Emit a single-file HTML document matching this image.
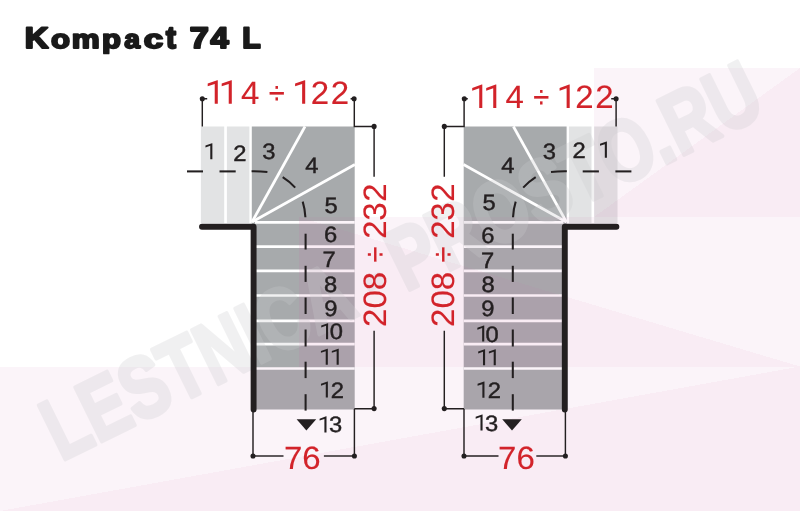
<!DOCTYPE html>
<html><head><meta charset="utf-8"><title>Kompact 74 L</title>
<style>
html,body{margin:0;padding:0;background:#fff;}
body{width:800px;height:511px;overflow:hidden;}
svg{display:block;font-family:"Liberation Sans",sans-serif;text-rendering:geometricPrecision;filter:blur(0.4px);}
</style></head><body>
<svg width="800" height="511" viewBox="0 0 800 511">
<rect width="800" height="511" fill="#fff"/>
<rect x="200.90" y="126.5" width="23.30" height="96.6" fill="#e2e3e4"/>
<rect x="226.90" y="126.5" width="22.50" height="96.6" fill="#e2e3e4"/>
<rect x="251.80" y="126.5" width="102.90" height="283" fill="#a7aaac"/>
<g stroke="#fff" stroke-width="2.7" fill="none">
<line x1="252.0" y1="222.0" x2="305.0" y2="126.5"/>
<line x1="252.0" y1="222.0" x2="354.9" y2="164.5"/>
<line x1="255.0" y1="222.3" x2="354.7" y2="222.3"/>
<line x1="255.0" y1="246.6" x2="354.7" y2="246.6"/>
<line x1="255.0" y1="270.9" x2="354.7" y2="270.9"/>
<line x1="255.0" y1="295.5" x2="354.7" y2="295.5"/>
<line x1="255.0" y1="320.9" x2="354.7" y2="320.9"/>
<line x1="255.0" y1="344.2" x2="354.7" y2="344.2"/>
<line x1="255.0" y1="368.5" x2="354.7" y2="368.5"/>
</g>
<rect x="594.20" y="126.5" width="23.30" height="96.6" fill="#e2e3e4"/>
<rect x="569.00" y="126.5" width="22.50" height="96.6" fill="#e2e3e4"/>
<rect x="463.70" y="126.5" width="102.90" height="283" fill="#a7aaac"/>
<g stroke="#fff" stroke-width="2.7" fill="none">
<line x1="566.4" y1="222.0" x2="513.4" y2="126.5"/>
<line x1="566.4" y1="222.0" x2="463.5" y2="164.5"/>
<line x1="463.7" y1="222.3" x2="563.4" y2="222.3"/>
<line x1="463.7" y1="246.6" x2="563.4" y2="246.6"/>
<line x1="463.7" y1="270.9" x2="563.4" y2="270.9"/>
<line x1="463.7" y1="295.5" x2="563.4" y2="295.5"/>
<line x1="463.7" y1="320.9" x2="563.4" y2="320.9"/>
<line x1="463.7" y1="344.2" x2="563.4" y2="344.2"/>
<line x1="463.7" y1="368.5" x2="563.4" y2="368.5"/>
</g>
<g fill="rgb(205,100,165)" shape-rendering="crispEdges">
<polygon points="594,68 800,68 594,217" fill-opacity="0.07"/>
<polygon points="594,217 800,68 800,217" fill-opacity="0.12"/>
<polygon points="299,217 800,217 800,366.5" fill-opacity="0.07"/>
<polygon points="299,217 800,366.5 299,366.5" fill-opacity="0.12"/>
<polygon points="0,366.5 800,366.5 0,511" fill-opacity="0.07"/>
<polygon points="0,511 800,366.5 800,511" fill-opacity="0.12"/>
</g>
<g opacity="0.27" transform="translate(61 461.5) rotate(-26.2)" font-size="87.5" font-weight="bold" fill="#cbcbce" stroke="#cbcbce" stroke-width="4" stroke-linejoin="round">
<text x="0" y="0" textLength="334" lengthAdjust="spacingAndGlyphs">LESTNICA</text>
<text x="350" y="0" textLength="21" lengthAdjust="spacingAndGlyphs">-</text>
<text x="384" y="0" textLength="404" lengthAdjust="spacingAndGlyphs">PROSTO.RU</text>
</g>
<g style="isolation:isolate" opacity="0.999">
<g stroke="#231f20" stroke-width="2.05" fill="none">
<line x1="187" y1="171.4" x2="203" y2="171.4"/>
<line x1="219.5" y1="171.4" x2="235.7" y2="171.4"/>
<path d="M251.6 171.3 Q260 171.2 267.4 171.9"/>
<path d="M282.7 177.1 Q289.8 181.6 295.2 187.6"/>
<path d="M302.7 201.6 Q305.0 209 305.4 217.2"/>
<line x1="305.6" y1="233.7" x2="305.6" y2="249.5"/>
<line x1="305.6" y1="265.8" x2="305.6" y2="281.9"/>
<line x1="305.6" y1="297.5" x2="305.6" y2="314.0"/>
<line x1="305.6" y1="329.5" x2="305.6" y2="346.5"/>
<line x1="305.6" y1="361.7" x2="305.6" y2="378.1"/>
<line x1="305.6" y1="394.2" x2="305.6" y2="410.6"/>
</g>
<polyline points="202.0,226.7 253.6,226.7 253.6,409.6" fill="none" stroke="#231f20" stroke-width="5.9" stroke-linecap="round" stroke-linejoin="round"/>
<polygon points="296.6,419.3 316.2,419.3 306.4,430.5" fill="#231f20"/>
<g stroke="#231f20" stroke-width="1.45" fill="none">
<polyline points="207.2,98.8 202.3,98.8 202.3,126.5"/>
<polyline points="350.6,98.8 354.3,98.8 354.3,126.4 374.1,126.4 374.1,176.8"/>
<polyline points="374.1,330.8 374.1,408.7 354.3,408.7"/>
<line x1="253.0" y1="411" x2="253.0" y2="456"/>
<line x1="354.4" y1="409" x2="354.4" y2="456"/>
</g>
<g fill="#231f20">
<circle cx="202.3" cy="98.8" r="2.55"/>
<circle cx="354.1" cy="98.8" r="2.55"/>
<circle cx="374.1" cy="126.4" r="2.55"/>
<circle cx="374.1" cy="408.6" r="2.55"/>
<circle cx="253.0" cy="456" r="2.55"/>
<circle cx="354.4" cy="456" r="2.55"/>
</g>
<g stroke="#231f20" stroke-width="2.05" fill="none">
<line x1="631.4" y1="171.4" x2="615.4" y2="171.4"/>
<line x1="598.9" y1="171.4" x2="582.7" y2="171.4"/>
<path d="M566.8 171.3 Q558.4 171.2 551.0 171.9"/>
<path d="M535.7 177.1 Q528.6 181.6 523.2 187.6"/>
<path d="M515.7 201.6 Q513.4 209 513.0 217.2"/>
<line x1="512.8" y1="233.7" x2="512.8" y2="249.5"/>
<line x1="512.8" y1="265.8" x2="512.8" y2="281.9"/>
<line x1="512.8" y1="297.5" x2="512.8" y2="314.0"/>
<line x1="512.8" y1="329.5" x2="512.8" y2="346.5"/>
<line x1="512.8" y1="361.7" x2="512.8" y2="378.1"/>
<line x1="512.8" y1="394.2" x2="512.8" y2="410.6"/>
</g>
<polyline points="616.4,226.7 564.8,226.7 564.8,409.6" fill="none" stroke="#231f20" stroke-width="5.9" stroke-linecap="round" stroke-linejoin="round"/>
<polygon points="521.8,419.3 502.2,419.3 512.0,430.5" fill="#231f20"/>
<g stroke="#231f20" stroke-width="1.45" fill="none">
<polyline points="611.2,98.8 616.1,98.8 616.1,126.5"/>
<polyline points="467.8,98.8 464.1,98.8 464.1,126.4 444.3,126.4 444.3,176.8"/>
<polyline points="444.3,330.8 444.3,408.7 464.1,408.7"/>
<line x1="565.4" y1="411" x2="565.4" y2="456"/>
<line x1="464.0" y1="409" x2="464.0" y2="456"/>
</g>
<g fill="#231f20">
<circle cx="616.1" cy="98.8" r="2.55"/>
<circle cx="464.3" cy="98.8" r="2.55"/>
<circle cx="444.3" cy="126.4" r="2.55"/>
<circle cx="444.3" cy="408.6" r="2.55"/>
<circle cx="565.4" cy="456" r="2.55"/>
<circle cx="464.0" cy="456" r="2.55"/>
</g>
<g stroke="#231f20" stroke-width="1.45"><line x1="253" y1="456" x2="283.5" y2="456"/><line x1="323.9" y1="456" x2="354.4" y2="456"/><line x1="464.0" y1="456" x2="498.5" y2="456"/><line x1="536.3" y1="456" x2="565.4" y2="456"/></g>
<polygon transform="translate(212.37 159.33)" points="0.00,0.00 -2.10,0.00 -2.10,-13.50 -6.90,-11.90 -6.90,-13.80 -0.40,-16.10 0.00,-16.10" fill="#231f20"/>
<text transform="translate(239.85 161.14) scale(1.07 1)" font-size="22.2" fill="#231f20" stroke="#231f20" stroke-width="0.45" text-anchor="middle">2</text>
<text transform="translate(268.85 158.99) scale(1.07 1)" font-size="22.2" fill="#231f20" stroke="#231f20" stroke-width="0.45" text-anchor="middle">3</text>
<text transform="translate(311.75 172.64) scale(1.07 1)" font-size="22.2" fill="#231f20" stroke="#231f20" stroke-width="0.45" text-anchor="middle">4</text>
<text transform="translate(330.99 213.34) scale(1.07 1)" font-size="22.2" fill="#231f20" stroke="#231f20" stroke-width="0.45" text-anchor="middle">5</text>
<text transform="translate(330.53 242.43) scale(1.07 1)" font-size="22.2" fill="#231f20" stroke="#231f20" stroke-width="0.45" text-anchor="middle">6</text>
<text transform="translate(329.12 267.22) scale(1.07 1)" font-size="22.2" fill="#231f20" stroke="#231f20" stroke-width="0.45" text-anchor="middle">7</text>
<text transform="translate(330.57 292.00) scale(1.07 1)" font-size="22.2" fill="#231f20" stroke="#231f20" stroke-width="0.45" text-anchor="middle">8</text>
<text transform="translate(330.81 316.14) scale(1.07 1)" font-size="22.2" fill="#231f20" stroke="#231f20" stroke-width="0.45" text-anchor="middle">9</text>
<polygon transform="translate(328.12 339.36)" points="0.00,0.00 -2.10,0.00 -2.10,-13.50 -6.90,-11.90 -6.90,-13.80 -0.40,-16.10 0.00,-16.10" fill="#231f20"/>
<text transform="translate(336.42 339.36) scale(1.07 1)" font-size="22.2" fill="#231f20" stroke="#231f20" stroke-width="0.45" text-anchor="middle">0</text>
<polygon transform="translate(327.83 364.77)" points="0.00,0.00 -2.10,0.00 -2.10,-13.50 -6.90,-11.90 -6.90,-13.80 -0.40,-16.10 0.00,-16.10" fill="#231f20"/>
<polygon transform="translate(338.73 364.77)" points="0.00,0.00 -2.10,0.00 -2.10,-13.50 -6.90,-11.90 -6.90,-13.80 -0.40,-16.10 0.00,-16.10" fill="#231f20"/>
<polygon transform="translate(327.88 397.58)" points="0.00,0.00 -2.10,0.00 -2.10,-13.50 -6.90,-11.90 -6.90,-13.80 -0.40,-16.10 0.00,-16.10" fill="#231f20"/>
<text transform="translate(337.23 397.58) scale(1.07 1)" font-size="22.2" fill="#231f20" stroke="#231f20" stroke-width="0.45" text-anchor="middle">2</text>
<polygon transform="translate(326.50 432.43)" points="0.00,0.00 -2.10,0.00 -2.10,-13.50 -6.90,-11.90 -6.90,-13.80 -0.40,-16.10 0.00,-16.10" fill="#231f20"/>
<text transform="translate(335.55 432.43) scale(1.07 1)" font-size="22.2" fill="#231f20" stroke="#231f20" stroke-width="0.45" text-anchor="middle">3</text>
<text transform="translate(549.33 159.47) scale(1.07 1)" font-size="22.2" fill="#231f20" stroke="#231f20" stroke-width="0.45" text-anchor="middle">3</text>
<text transform="translate(579.12 157.66) scale(1.07 1)" font-size="22.2" fill="#231f20" stroke="#231f20" stroke-width="0.45" text-anchor="middle">2</text>
<polygon transform="translate(606.91 157.67)" points="0.00,0.00 -2.10,0.00 -2.10,-13.50 -6.90,-11.90 -6.90,-13.80 -0.40,-16.10 0.00,-16.10" fill="#231f20"/>
<text transform="translate(507.90 172.94) scale(1.07 1)" font-size="22.2" fill="#231f20" stroke="#231f20" stroke-width="0.45" text-anchor="middle">4</text>
<text transform="translate(489.12 209.57) scale(1.07 1)" font-size="22.2" fill="#231f20" stroke="#231f20" stroke-width="0.45" text-anchor="middle">5</text>
<text transform="translate(487.86 242.76) scale(1.07 1)" font-size="22.2" fill="#231f20" stroke="#231f20" stroke-width="0.45" text-anchor="middle">6</text>
<text transform="translate(487.61 268.04) scale(1.07 1)" font-size="22.2" fill="#231f20" stroke="#231f20" stroke-width="0.45" text-anchor="middle">7</text>
<text transform="translate(488.05 291.96) scale(1.07 1)" font-size="22.2" fill="#231f20" stroke="#231f20" stroke-width="0.45" text-anchor="middle">8</text>
<text transform="translate(487.79 316.22) scale(1.07 1)" font-size="22.2" fill="#231f20" stroke="#231f20" stroke-width="0.45" text-anchor="middle">9</text>
<polygon transform="translate(484.26 341.56)" points="0.00,0.00 -2.10,0.00 -2.10,-13.50 -6.90,-11.90 -6.90,-13.80 -0.40,-16.10 0.00,-16.10" fill="#231f20"/>
<text transform="translate(492.21 341.56) scale(1.07 1)" font-size="22.2" fill="#231f20" stroke="#231f20" stroke-width="0.45" text-anchor="middle">0</text>
<polygon transform="translate(485.09 365.37)" points="0.00,0.00 -2.10,0.00 -2.10,-13.50 -6.90,-11.90 -6.90,-13.80 -0.40,-16.10 0.00,-16.10" fill="#231f20"/>
<polygon transform="translate(495.79 365.37)" points="0.00,0.00 -2.10,0.00 -2.10,-13.50 -6.90,-11.90 -6.90,-13.80 -0.40,-16.10 0.00,-16.10" fill="#231f20"/>
<polygon transform="translate(484.47 397.63)" points="0.00,0.00 -2.10,0.00 -2.10,-13.50 -6.90,-11.90 -6.90,-13.80 -0.40,-16.10 0.00,-16.10" fill="#231f20"/>
<text transform="translate(494.32 397.63) scale(1.07 1)" font-size="22.2" fill="#231f20" stroke="#231f20" stroke-width="0.45" text-anchor="middle">2</text>
<polygon transform="translate(482.57 430.62)" points="0.00,0.00 -2.10,0.00 -2.10,-13.50 -6.90,-11.90 -6.90,-13.80 -0.40,-16.10 0.00,-16.10" fill="#231f20"/>
<text transform="translate(491.62 430.62) scale(1.07 1)" font-size="22.2" fill="#231f20" stroke="#231f20" stroke-width="0.45" text-anchor="middle">3</text>
<polygon transform="translate(217.80 103.70)" points="0.00,0.00 -3.07,0.00 -3.07,-19.77 -10.10,-17.43 -10.10,-20.21 -0.59,-23.57 0.00,-23.57" fill="#d2232a"/>
<polygon transform="translate(231.80 103.70)" points="0.00,0.00 -3.07,0.00 -3.07,-19.77 -10.10,-17.43 -10.10,-20.21 -0.59,-23.57 0.00,-23.57" fill="#d2232a"/>
<text transform="translate(250.30 103.70) scale(1.02 1)" font-size="32.4" fill="#d2232a" stroke="#d2232a" stroke-width="0.12" text-anchor="middle">4</text>
<text transform="translate(276.80 103.70) scale(0.9 1)" font-size="32.4" fill="#d2232a" stroke="#d2232a" stroke-width="0.12" text-anchor="middle">÷</text>
<polygon transform="translate(305.20 103.70)" points="0.00,0.00 -3.07,0.00 -3.07,-19.77 -10.10,-17.43 -10.10,-20.21 -0.59,-23.57 0.00,-23.57" fill="#d2232a"/>
<text transform="translate(320.00 103.70) scale(1.02 1)" font-size="32.4" fill="#d2232a" stroke="#d2232a" stroke-width="0.12" text-anchor="middle">2</text>
<text transform="translate(340.00 103.70) scale(1.02 1)" font-size="32.4" fill="#d2232a" stroke="#d2232a" stroke-width="0.12" text-anchor="middle">2</text>
<polygon transform="translate(482.30 108.10)" points="0.00,0.00 -3.07,0.00 -3.07,-19.77 -10.10,-17.43 -10.10,-20.21 -0.59,-23.57 0.00,-23.57" fill="#d2232a"/>
<polygon transform="translate(496.30 108.10)" points="0.00,0.00 -3.07,0.00 -3.07,-19.77 -10.10,-17.43 -10.10,-20.21 -0.59,-23.57 0.00,-23.57" fill="#d2232a"/>
<text transform="translate(514.80 108.10) scale(1.02 1)" font-size="32.4" fill="#d2232a" stroke="#d2232a" stroke-width="0.12" text-anchor="middle">4</text>
<text transform="translate(541.30 108.10) scale(0.9 1)" font-size="32.4" fill="#d2232a" stroke="#d2232a" stroke-width="0.12" text-anchor="middle">÷</text>
<polygon transform="translate(569.70 108.10)" points="0.00,0.00 -3.07,0.00 -3.07,-19.77 -10.10,-17.43 -10.10,-20.21 -0.59,-23.57 0.00,-23.57" fill="#d2232a"/>
<text transform="translate(584.50 108.10) scale(1.02 1)" font-size="32.4" fill="#d2232a" stroke="#d2232a" stroke-width="0.12" text-anchor="middle">2</text>
<text transform="translate(604.50 108.10) scale(1.02 1)" font-size="32.4" fill="#d2232a" stroke="#d2232a" stroke-width="0.12" text-anchor="middle">2</text>
<text transform="translate(386.20 317.70) rotate(-90) scale(1.02 1)" font-size="32.4" fill="#d2232a" stroke="#d2232a" stroke-width="0.12" text-anchor="middle">2</text>
<text transform="translate(453.80 317.70) rotate(-90) scale(1.02 1)" font-size="32.4" fill="#d2232a" stroke="#d2232a" stroke-width="0.12" text-anchor="middle">2</text>
<text transform="translate(386.20 299.30) rotate(-90) scale(1.02 1)" font-size="32.4" fill="#d2232a" stroke="#d2232a" stroke-width="0.12" text-anchor="middle">0</text>
<text transform="translate(453.80 299.30) rotate(-90) scale(1.02 1)" font-size="32.4" fill="#d2232a" stroke="#d2232a" stroke-width="0.12" text-anchor="middle">0</text>
<text transform="translate(386.20 281.00) rotate(-90) scale(1.02 1)" font-size="32.4" fill="#d2232a" stroke="#d2232a" stroke-width="0.12" text-anchor="middle">8</text>
<text transform="translate(453.80 281.00) rotate(-90) scale(1.02 1)" font-size="32.4" fill="#d2232a" stroke="#d2232a" stroke-width="0.12" text-anchor="middle">8</text>
<text transform="translate(386.20 254.60) rotate(-90) scale(0.9 1)" font-size="32.4" fill="#d2232a" stroke="#d2232a" stroke-width="0.12" text-anchor="middle">÷</text>
<text transform="translate(453.80 254.60) rotate(-90) scale(0.9 1)" font-size="32.4" fill="#d2232a" stroke="#d2232a" stroke-width="0.12" text-anchor="middle">÷</text>
<text transform="translate(386.20 229.50) rotate(-90) scale(1.02 1)" font-size="32.4" fill="#d2232a" stroke="#d2232a" stroke-width="0.12" text-anchor="middle">2</text>
<text transform="translate(453.80 229.50) rotate(-90) scale(1.02 1)" font-size="32.4" fill="#d2232a" stroke="#d2232a" stroke-width="0.12" text-anchor="middle">2</text>
<text transform="translate(386.20 211.50) rotate(-90) scale(1.02 1)" font-size="32.4" fill="#d2232a" stroke="#d2232a" stroke-width="0.12" text-anchor="middle">3</text>
<text transform="translate(453.80 211.50) rotate(-90) scale(1.02 1)" font-size="32.4" fill="#d2232a" stroke="#d2232a" stroke-width="0.12" text-anchor="middle">3</text>
<text transform="translate(386.20 192.60) rotate(-90) scale(1.02 1)" font-size="32.4" fill="#d2232a" stroke="#d2232a" stroke-width="0.12" text-anchor="middle">2</text>
<text transform="translate(453.80 192.60) rotate(-90) scale(1.02 1)" font-size="32.4" fill="#d2232a" stroke="#d2232a" stroke-width="0.12" text-anchor="middle">2</text>
<text transform="translate(293.20 468.70) scale(1.02 1)" font-size="32.4" fill="#d2232a" stroke="#d2232a" stroke-width="0.12" text-anchor="middle">7</text>
<text transform="translate(311.35 468.70) scale(1.02 1)" font-size="32.4" fill="#d2232a" stroke="#d2232a" stroke-width="0.12" text-anchor="middle">6</text>
<text transform="translate(507.30 468.70) scale(1.02 1)" font-size="32.4" fill="#d2232a" stroke="#d2232a" stroke-width="0.12" text-anchor="middle">7</text>
<text transform="translate(525.70 468.70) scale(1.02 1)" font-size="32.4" fill="#d2232a" stroke="#d2232a" stroke-width="0.12" text-anchor="middle">6</text>
<g font-size="29.8" font-weight="bold" fill="#1a1a1a" stroke="#1a1a1a" stroke-width="2.2" stroke-linejoin="round">
<text transform="translate(24.63 47.70) scale(1.103 1.0)" vector-effect="non-scaling-stroke">K</text>
<text transform="translate(51.07 47.70) scale(1.043 0.87)" vector-effect="non-scaling-stroke">o</text>
<text transform="translate(71.71 47.70) scale(1.055 0.87)" vector-effect="non-scaling-stroke">m</text>
<text transform="translate(102.04 47.70) scale(1.040 0.87)" vector-effect="non-scaling-stroke">p</text>
<text transform="translate(124.13 47.70) scale(0.952 0.87)" vector-effect="non-scaling-stroke">a</text>
<text transform="translate(143.75 47.70) scale(1.174 0.87)" vector-effect="non-scaling-stroke">c</text>
<text transform="translate(165.90 47.70) scale(0.996 1.04)" vector-effect="non-scaling-stroke">t</text>
<text transform="translate(189.63 47.70) scale(1.147 1.0)" vector-effect="non-scaling-stroke">7</text>
<text transform="translate(210.47 47.70) scale(1.098 1.0)" vector-effect="non-scaling-stroke">4</text>
<text transform="translate(242.29 47.70) scale(1.013 1.0)" vector-effect="non-scaling-stroke">L</text>
</g>
</g>
</svg>
</body></html>
